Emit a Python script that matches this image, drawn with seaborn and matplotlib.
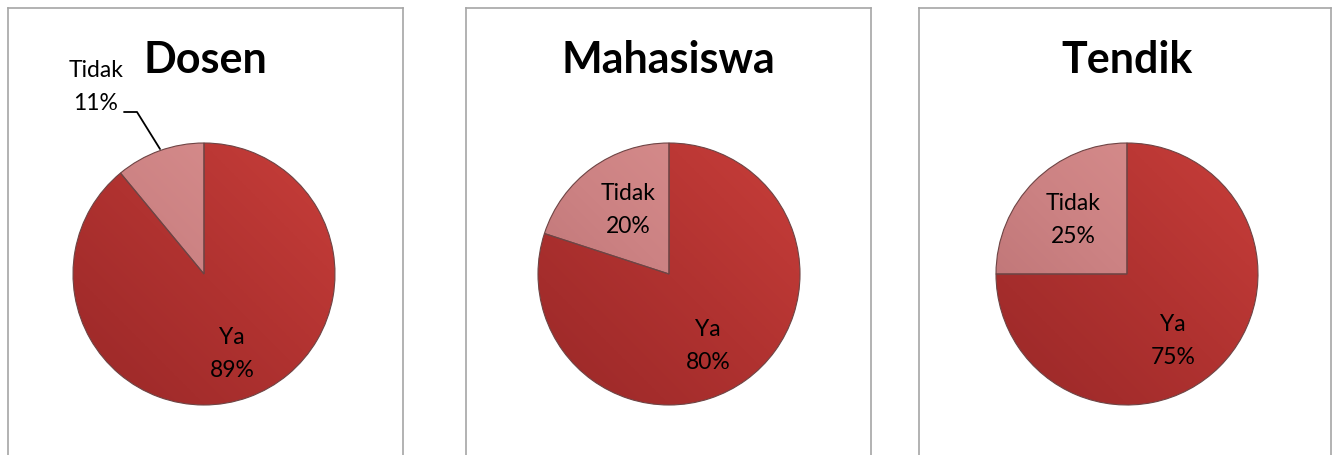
import numpy as np
import matplotlib
matplotlib.use("Agg")
import matplotlib.pyplot as plt
from matplotlib.colors import LinearSegmentedColormap
import seaborn as sns

# -------------------------
# Data
# -------------------------
groups = ["Dosen", "Mahasiswa", "Tendik"]
answers = ["Ya", "Tidak"]
ya_pct = [89, 80, 75]
tidak_pct = [11, 20, 25]

# -------------------------
# Style
# -------------------------
sns.set_theme(style="white")
plt.rcParams["font.family"] = ["Lato", "DejaVu Sans"]

W, H = 1338, 455
fig = plt.figure(figsize=(W / 100, H / 100), dpi=100)
fig.patch.set_facecolor("white")

# panel boxes in pixel coords (left, right), pie centre x
panels = [(8, 403, 204), (466, 871, 669), (919, 1331, 1127)]
top, bottom = 8, 470
cy = H - 274
radius = 131

# label offsets (pixels from pie centre) for Ya / Tidak
ya_offsets = [(28, -80), (39, -72), (46, -67)]
tidak_offsets = [None, (-41, 64), (-54, 54)]

grad_ya = LinearSegmentedColormap.from_list("ya", ["#9a2828", "#b03230", "#c83e3a"])
grad_tidak = LinearSegmentedColormap.from_list("tidak", ["#b86e70", "#cc8283", "#dc9190"])

label_kw = dict(ha="center", va="center", fontsize=16.5, linespacing=1.65,
                color="black", zorder=10)

for i, (x0, x1, cx) in enumerate(panels):
    ax = fig.add_axes([x0 / W, (H - bottom) / H, (x1 - x0) / W, (bottom - top) / H])
    vals = [ya_pct[i], tidak_pct[i]]
    wedges, _ = ax.pie(vals, startangle=90, counterclock=False, center=(cx, cy),
                       radius=radius, colors=["#b53432", "#cf8584"], frame=True,
                       wedgeprops=dict(edgecolor="#6e4444", linewidth=0.8))

    # diagonal shading inside each slice
    yy, xx = np.mgrid[0:1:200j, 0:1:200j]
    shade = (xx + (1 - yy)) / 2
    for w, cmap in zip(wedges, [grad_ya, grad_tidak]):
        im = ax.imshow(shade, extent=(cx - radius, cx + radius, cy - radius, cy + radius),
                       cmap=cmap, origin="upper", zorder=w.get_zorder() + 0.1,
                       interpolation="bilinear")
        im.set_clip_path(w)
        w.set_zorder(w.get_zorder() + 0.2)
        w.set_facecolor("none")

    ax.set_xlim(x0, x1)
    ax.set_ylim(H - bottom, H - top)
    ax.set_aspect("auto")
    ax.set_xticks([])
    ax.set_yticks([])
    for side, sp in ax.spines.items():
        sp.set_color("#a6a6a6")
        sp.set_linewidth(1.2)
        sp.set_visible(side != "bottom")

    ax.text((x0 + x1) / 2 + (2 if i == 2 else 0), H - 60, groups[i], ha="center", va="center",
            fontsize=31, fontweight="bold", color="black")

    dx, dy = ya_offsets[i]
    ax.text(cx + dx, cy + dy, f"{answers[0]}\n{ya_pct[i]}%", **label_kw)

    if tidak_offsets[i] is not None:
        dx, dy = tidak_offsets[i]
        ax.text(cx + dx, cy + dy, f"{answers[1]}\n{tidak_pct[i]}%", **label_kw)
    else:
        # small slice: label outside with a leader line
        ax.text(96, H - 87, f"{answers[1]}\n{tidak_pct[i]}%", **label_kw)
        ax.plot([124, 137, 160], [H - 112, H - 112, H - 149], color="black", lw=1.3, zorder=10)

fig.savefig("out.png", dpi=100, facecolor="white")
